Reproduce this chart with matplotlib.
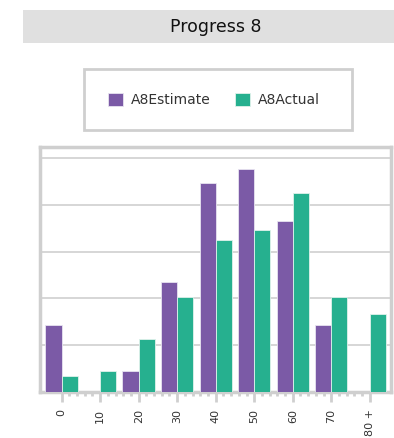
import numpy as np
import matplotlib
matplotlib.use("Agg")
import matplotlib.pyplot as plt
from matplotlib.patches import Rectangle
from matplotlib.ticker import FixedLocator

categories = ["0", "10", "20", "30", "40", "50", "60", "70", "80 +"]
estimate = [7.2, 0.0, 2.2, 11.8, 22.4, 23.9, 18.3, 7.2, 0.0]
actual = [1.7, 2.2, 5.7, 10.2, 16.3, 17.3, 21.3, 10.2, 8.3]

purple = "#7b5aa6"
green = "#26b08f"
frame_col = "#cfcfcf"

W, H = 394, 438
fig = plt.figure(figsize=(W / 100, H / 100), dpi=100)

# title band
fig.patches.append(Rectangle((23 / W, 1 - 43 / H), 371 / W, 33 / H,
                             transform=fig.transFigure, facecolor="#e0e0e0",
                             edgecolor="none"))
fig.text(216 / W, 1 - 27 / H, "Progress 8", ha="center", va="center",
         fontsize=12.5, color="#111111")

# legend box
fig.patches.append(Rectangle((84 / W, 1 - 130 / H), 268 / W, 61 / H,
                             transform=fig.transFigure, facecolor="white",
                             edgecolor=frame_col, linewidth=2))

ax = fig.add_axes([40 / W, 1 - 392 / H, 351 / W, 245 / H])
x = np.arange(len(categories))
w = 0.42
b1 = ax.bar(x - w / 2, estimate, w, color=purple, edgecolor="#e8e4f0",
            linewidth=0.6, label="A8Estimate", zorder=3)
b2 = ax.bar(x + w / 2, actual, w, color=green, edgecolor="#e0f2ec",
            linewidth=0.6, label="A8Actual", zorder=3)

ax.set_xlim(-0.56, 8.55)
ax.set_ylim(0, 26.2)
ax.set_yticks([5, 10, 15, 20, 25])
ax.yaxis.grid(True, color="#d0d0d0", linewidth=1.2, zorder=0)
ax.tick_params(axis="y", length=0, labelleft=False)

ax.set_xticks(x)
ax.set_xticklabels(categories, rotation=90, fontsize=8, color="#333333")
ax.xaxis.set_minor_locator(FixedLocator(
    [i + f for i in range(8) for f in (0.2, 0.4, 0.6, 0.8)]))
ax.tick_params(axis="x", which="major", length=7, width=2, color=frame_col, pad=5)
ax.tick_params(axis="x", which="minor", length=3, width=2, color=frame_col)

for s in ax.spines.values():
    s.set_color(frame_col)
    s.set_linewidth(2.5)

leg = fig.legend(handles=[b1, b2], loc="center", ncol=2,
                 bbox_to_anchor=(214 / W, 1 - 100 / H),
                 frameon=False, fontsize=10,
                 handlelength=1.1, handleheight=1.1, handletextpad=0.6,
                 columnspacing=1.7, borderaxespad=0)
for t in leg.get_texts():
    t.set_color("#333333")

fig.savefig("out.png", dpi=100)
